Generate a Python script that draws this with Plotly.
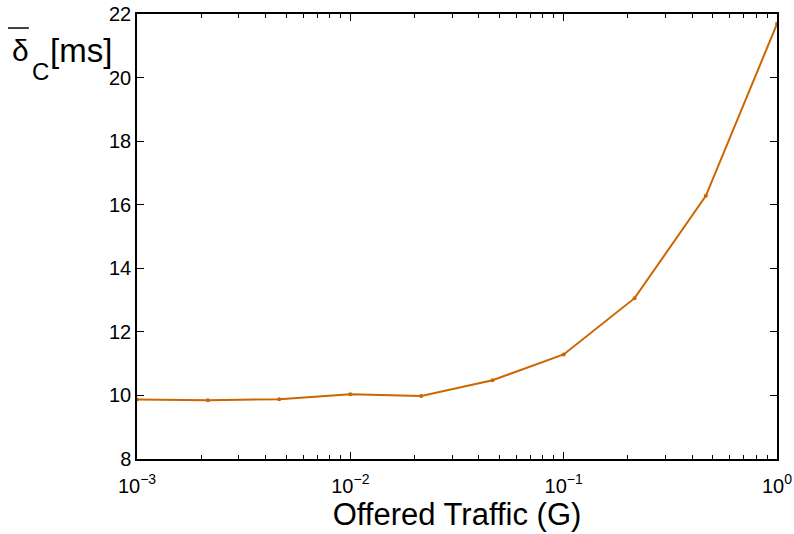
import plotly.graph_objects as go

offered_traffic = [0.001, 0.00215, 0.00464, 0.01, 0.0215, 0.0464, 0.1, 0.215, 0.464, 1.0]
delay_ms = [9.87, 9.85, 9.88, 10.04, 9.98, 10.48, 11.29, 13.06, 16.28, 21.69]

x_tickvals = [0.001, 0.01, 0.1, 1]
x_ticktext = ["10<sup>−3</sup>", "10<sup>−2</sup>", "10<sup>−1</sup>", "10<sup>0</sup>"]
x_minor_tickvals = [m * d for d in (0.001, 0.01, 0.1) for m in (2, 3, 4, 5, 6, 7, 8, 9)]
y_tickvals = [8, 10, 12, 14, 16, 18, 20, 22]

color = "#CC6600"
font_family = "Liberation Sans, Arial, Helvetica, sans-serif"

fig = go.Figure()
fig.add_trace(go.Scatter(
    x=offered_traffic, y=delay_ms, mode="lines+markers",
    line=dict(color=color, width=2),
    marker=dict(color=color, size=4),
    showlegend=False, cliponaxis=False,
))

fig.update_layout(
    width=794, height=534,
    margin=dict(l=137, r=17, t=14, b=75),
    paper_bgcolor="white", plot_bgcolor="white",
    font=dict(family=font_family, color="black", size=20),
    xaxis=dict(
        type="log", range=[-3, 0], automargin=False,
        tickvals=x_tickvals, ticktext=x_ticktext,
        ticks="inside", ticklen=7, tickwidth=1, tickcolor="black",
        minor=dict(tickvals=x_minor_tickvals, ticks="inside", ticklen=4,
                   tickcolor="black", showgrid=False),
        showline=True, linecolor="black", linewidth=1.5, mirror="allticks",
        showgrid=False, zeroline=False,
        tickfont=dict(size=20), ticklabelstandoff=8,
        title=dict(text="Offered Traffic (G)", font=dict(size=31), standoff=6),
    ),
    yaxis=dict(
        range=[8, 22], tickvals=y_tickvals, automargin=False,
        ticks="inside", ticklen=7, tickwidth=1, tickcolor="black",
        showline=True, linecolor="black", linewidth=1.5, mirror="allticks",
        showgrid=False, zeroline=False,
        tickfont=dict(size=20),
    ),
)

# y-axis label: delta (with overline), subscript C, unit
fig.add_annotation(
    xref="paper", yref="paper", x=-0.199, y=0.919,
    xanchor="left", yanchor="middle", showarrow=False,
    text="δ", font=dict(size=30),
)
fig.add_annotation(
    xref="paper", yref="paper", x=-0.167, y=0.871,
    xanchor="left", yanchor="middle", showarrow=False,
    text="C", font=dict(size=24),
)
fig.add_annotation(
    xref="paper", yref="paper", x=-0.139, y=0.919,
    xanchor="left", yanchor="middle", showarrow=False,
    text="[ms]", font=dict(size=33),
)
fig.add_shape(
    type="line", xref="paper", yref="paper", layer="above",
    x0=-0.2016, x1=-0.169, y0=0.9685, y1=0.9685,
    line=dict(color="black", width=1.5),
)

fig.write_html("out.html")
